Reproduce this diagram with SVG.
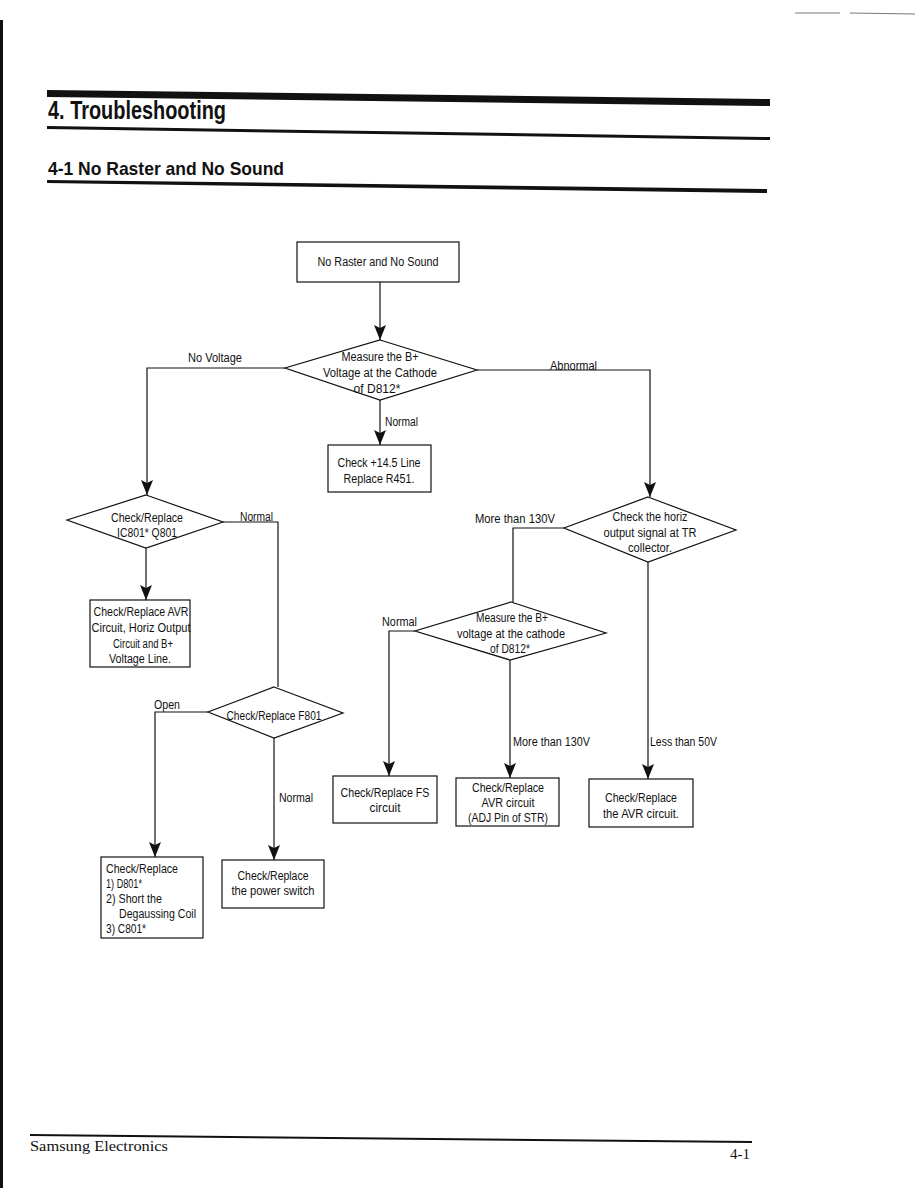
<svg xmlns="http://www.w3.org/2000/svg" width="918" height="1188" viewBox="0 0 918 1188">
<style>
.t{font-family:"Liberation Sans",Arial,sans-serif;font-size:12.5px;fill:#111;}
.c{text-anchor:middle;}
.s{fill:#fff;stroke:#111;stroke-width:1.2;}
.l{fill:none;stroke:#111;stroke-width:1.2;}
.h{font-family:"Liberation Sans",Arial,sans-serif;font-weight:bold;fill:#111;}
</style>
<defs>
<marker id="a" viewBox="0 0 15 12" refX="15" refY="6" markerWidth="15" markerHeight="12" markerUnits="userSpaceOnUse" orient="auto">
<path d="M0,0 L15,6 L0,12 L3,6 Z" fill="#111"/>
</marker>
</defs>
<rect width="918" height="1188" fill="#fff"/>
<g id="page">
<rect x="0" y="20" width="3" height="1168" fill="#111"/>
<line x1="795" y1="13" x2="840" y2="13" stroke="#777" stroke-width="1"/>
<line x1="850" y1="13" x2="915" y2="14" stroke="#777" stroke-width="1"/>
<polygon points="47,90 770,99 770,106 47,97" fill="#111"/>
<text class="h" x="48" y="119" font-size="25" textLength="178" lengthAdjust="spacingAndGlyphs">4. Troubleshooting</text>
<polygon points="47,126 770,137 770,140 47,129" fill="#111"/>
<text class="h" x="48" y="175" font-size="19" textLength="236" lengthAdjust="spacingAndGlyphs">4-1 No Raster and No Sound</text>
<polygon points="47,180 767,189 767,193 47,183" fill="#111"/>
<line x1="30" y1="1135" x2="752" y2="1142" stroke="#111" stroke-width="2"/>
<text x="30" y="1151" font-family="Liberation Serif,serif" font-size="15" fill="#111" textLength="138" lengthAdjust="spacingAndGlyphs">Samsung Electronics</text>
<text x="730" y="1159" font-family="Liberation Serif,serif" font-size="15" fill="#111">4-1</text>
</g>
<g id="connectors">
<path class="l" d="M380,282 V340" marker-end="url(#a)"/>
<path class="l" d="M285,368 H147 V495" marker-end="url(#a)"/>
<path class="l" d="M477,370 H650 V497" marker-end="url(#a)"/>
<path class="l" d="M380,400 V445" marker-end="url(#a)"/>
<path class="l" d="M146,548 V600" marker-end="url(#a)"/>
<path class="l" d="M223,522 H278 V687"/>
<path class="l" d="M208,712 H155 V857" marker-end="url(#a)"/>
<path class="l" d="M274,738 V860" marker-end="url(#a)"/>
<path class="l" d="M564,528 H513 V602"/>
<path class="l" d="M415,631 H389 V776" marker-end="url(#a)"/>
<path class="l" d="M510,660 V778" marker-end="url(#a)"/>
<path class="l" d="M648,562 V779" marker-end="url(#a)"/>
<text class="t" x="188" y="362" textLength="54" lengthAdjust="spacingAndGlyphs">No Voltage</text>
<text class="t" x="550" y="370" textLength="47" lengthAdjust="spacingAndGlyphs">Abnormal</text>
<text class="t" x="385" y="426" textLength="33" lengthAdjust="spacingAndGlyphs">Normal</text>
<text class="t" x="240" y="521" textLength="33" lengthAdjust="spacingAndGlyphs">Normal</text>
<text class="t" x="475" y="523" textLength="80" lengthAdjust="spacingAndGlyphs">More than 130V</text>
<text class="t" x="382" y="626" textLength="35" lengthAdjust="spacingAndGlyphs">Normal</text>
<text class="t" x="154" y="709" textLength="26" lengthAdjust="spacingAndGlyphs">Open</text>
<text class="t" x="279" y="802" textLength="34" lengthAdjust="spacingAndGlyphs">Normal</text>
<text class="t" x="513" y="746" textLength="77" lengthAdjust="spacingAndGlyphs">More than 130V</text>
<text class="t" x="650" y="746" textLength="67" lengthAdjust="spacingAndGlyphs">Less than 50V</text>
</g>
<g id="n1">
<rect class="s" x="297" y="242" width="162" height="40"/>
<text class="t c" x="378" y="266" textLength="121" lengthAdjust="spacingAndGlyphs">No Raster and No Sound</text>
</g>
<g id="d1">
<polygon class="s" points="380,340 477,370 380,400 285,368"/>
<text class="t c" x="380" y="361" textLength="77" lengthAdjust="spacingAndGlyphs">Measure the B+</text>
<text class="t c" x="380" y="377" textLength="114" lengthAdjust="spacingAndGlyphs">Voltage at the Cathode</text>
<text class="t c" x="377" y="393" textLength="47" lengthAdjust="spacingAndGlyphs">of D812*</text>
</g>
<g id="n2">
<rect class="s" x="328" y="445" width="103" height="47"/>
<text class="t c" x="379" y="467" textLength="83" lengthAdjust="spacingAndGlyphs">Check +14.5 Line</text>
<text class="t c" x="379" y="483" textLength="71" lengthAdjust="spacingAndGlyphs">Replace R451.</text>
</g>
<g id="d2">
<polygon class="s" points="146,495 223,522 146,548 67,520"/>
<text class="t c" x="147" y="522" textLength="72" lengthAdjust="spacingAndGlyphs">Check/Replace</text>
<text class="t c" x="147" y="537" textLength="60" lengthAdjust="spacingAndGlyphs">IC801* Q801</text>
</g>
<g id="n3">
<rect class="s" x="90" y="600" width="100" height="67"/>
<text class="t c" x="141" y="616" textLength="95" lengthAdjust="spacingAndGlyphs">Check/Replace AVR</text>
<text class="t c" x="141" y="632" textLength="99" lengthAdjust="spacingAndGlyphs">Circuit, Horiz Output</text>
<text class="t c" x="143" y="648" textLength="60" lengthAdjust="spacingAndGlyphs">Circuit and B+</text>
<text class="t c" x="140" y="663" textLength="62" lengthAdjust="spacingAndGlyphs">Voltage Line.</text>
</g>
<g id="d3">
<polygon class="s" points="648,497 736,530 648,562 564,528"/>
<text class="t c" x="650" y="521" textLength="75" lengthAdjust="spacingAndGlyphs">Check the horiz</text>
<text class="t c" x="650" y="537" textLength="93" lengthAdjust="spacingAndGlyphs">output signal at TR</text>
<text class="t c" x="650" y="552" textLength="44" lengthAdjust="spacingAndGlyphs">collector.</text>
</g>
<g id="d4">
<polygon class="s" points="274,687 343,713 274,738 208,712"/>
<text class="t c" x="274" y="720" textLength="95" lengthAdjust="spacingAndGlyphs">Check/Replace F801</text>
</g>
<g id="d5">
<polygon class="s" points="511,602 606,633 510,660 415,631"/>
<text class="t c" x="512" y="622" textLength="72" lengthAdjust="spacingAndGlyphs">Measure the B+</text>
<text class="t c" x="511" y="638" textLength="108" lengthAdjust="spacingAndGlyphs">voltage at the cathode</text>
<text class="t c" x="510" y="653" textLength="40" lengthAdjust="spacingAndGlyphs">of D812*</text>
</g>
<g id="n4">
<rect class="s" x="101" y="857" width="102" height="81"/>
<text class="t" x="106" y="873" textLength="72" lengthAdjust="spacingAndGlyphs">Check/Replace</text>
<text class="t" x="106" y="888" textLength="36" lengthAdjust="spacingAndGlyphs">1) D801*</text>
<text class="t" x="106" y="903" textLength="56" lengthAdjust="spacingAndGlyphs">2) Short the</text>
<text class="t" x="119" y="918" textLength="77" lengthAdjust="spacingAndGlyphs">Degaussing Coil</text>
<text class="t" x="106" y="933" textLength="40" lengthAdjust="spacingAndGlyphs">3) C801*</text>
</g>
<g id="n5">
<rect class="s" x="222" y="860" width="102" height="48"/>
<text class="t c" x="273" y="880" textLength="71" lengthAdjust="spacingAndGlyphs">Check/Replace</text>
<text class="t c" x="273" y="895" textLength="83" lengthAdjust="spacingAndGlyphs">the power switch</text>
</g>
<g id="n6">
<rect class="s" x="333" y="776" width="104" height="47"/>
<text class="t c" x="385" y="797" textLength="89" lengthAdjust="spacingAndGlyphs">Check/Replace FS</text>
<text class="t c" x="385" y="812" textLength="31" lengthAdjust="spacingAndGlyphs">circuit</text>
</g>
<g id="n7">
<rect class="s" x="456" y="778" width="103" height="48"/>
<text class="t c" x="508" y="792" textLength="72" lengthAdjust="spacingAndGlyphs">Check/Replace</text>
<text class="t c" x="508" y="807" textLength="53" lengthAdjust="spacingAndGlyphs">AVR circuit</text>
<text class="t c" x="508" y="822" textLength="80" lengthAdjust="spacingAndGlyphs">(ADJ Pin of STR)</text>
</g>
<g id="n8">
<rect class="s" x="589" y="779" width="104" height="48"/>
<text class="t c" x="641" y="802" textLength="72" lengthAdjust="spacingAndGlyphs">Check/Replace</text>
<text class="t c" x="641" y="818" textLength="76" lengthAdjust="spacingAndGlyphs">the AVR circuit.</text>
</g>
</svg>
